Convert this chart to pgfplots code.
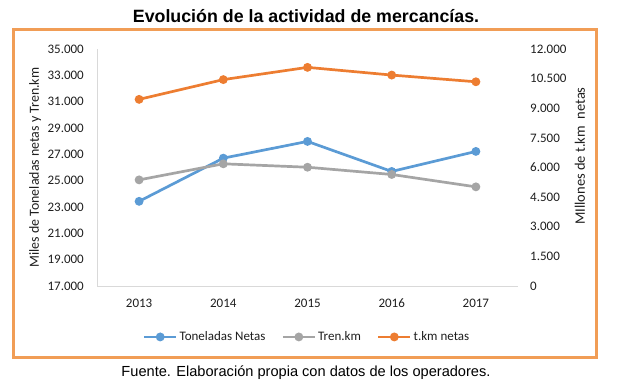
\documentclass[border=0pt]{standalone}
\usepackage{pgfplots}
\pgfplotsset{compat=1.18}
\usepackage{fontspec}
\setmainfont{Carlito}
\newfontfamily\arial{Liberation Sans}
\definecolor{cblue}{RGB}{91,155,213}
\definecolor{cgray}{RGB}{165,165,165}
\definecolor{corange}{RGB}{237,125,49}
\definecolor{cframe}{RGB}{241,157,86}
\definecolor{caxis}{RGB}{217,217,217}
\definecolor{ctext}{RGB}{30,30,30}
\begin{document}
\begin{tikzpicture}[x=1pt,y=1pt]
\useasboundingbox (0,0) rectangle (623,390);
\draw[cframe, line width=3pt] (13.5,360) rectangle (596.5,32);
\node[font=\arial\bfseries\fontsize{17.8}{20}\selectfont] at (306,374) {Evolución de la actividad de mercancías.};
\node[font=\arial\fontsize{14.6}{16}\selectfont] at (306,17) {Fuente. Elaboración propia con datos de los operadores.};
\pgfplotsset{
  common/.style={
    at={(97pt,104pt)}, anchor=south west,
    scale only axis, width=421pt, height=237pt,
    xmin=-0.5, xmax=4.5,
    major tick length=0pt,
    scaled y ticks=false,
    /pgf/number format/assume math mode=true,
    /pgf/number format/.cd, fixed, 1000 sep={.}, /pgfplots/.cd,
    tick label style={font=\fontsize{13}{15}\selectfont, text=ctext},
    every axis plot/.append style={line width=2.7pt, mark=*, mark size=3pt},
  }
}
\begin{axis}[common,
  axis x line*=bottom, axis y line*=left,
  axis line style={draw=caxis, line width=0.8pt, -},
  ymin=17000, ymax=35000, ytick={17000,19000,...,35000},
  xtick={0,1,2,3,4}, xticklabels={2013,2014,2015,2016,2017},
  xticklabel style={inner sep=0pt, anchor=north, yshift=-13pt},
  yticklabel style={inner sep=0pt, anchor=east, xshift=-13pt},
  ylabel={Miles de Toneladas netas y Tren.km},
  ylabel style={at={(axis description cs:-0.147,0.5)}, anchor=center, text=ctext, font=\fontsize{13.9}{16}\selectfont},
]
\addplot[cblue, mark options={fill=cblue}] coordinates {(0,23430) (1,26710) (2,27980) (3,25700) (4,27220)};
\addplot[cgray, mark options={fill=cgray}] coordinates {(0,25060) (1,26280) (2,26020) (3,25470) (4,24530)};
\end{axis}
\begin{axis}[common,
  axis x line=none, axis y line*=right,
  y axis line style={draw=none},
  ymin=0, ymax=12000, ytick={0,1500,...,12000},
  yticklabel style={inner sep=0pt, anchor=west, xshift=12pt},
  ylabel={MIllones de t.km\ \ netas},
  ylabel style={at={(axis description cs:1.147,0.548)}, anchor=center, rotate=0, text=ctext, font=\fontsize{14.5}{16}\selectfont},
  legend columns=3,
  legend style={at={(axis description cs:0.499,-0.215)}, anchor=center, draw=none, fill=none,
    font=\fontsize{13}{15}\selectfont, text=ctext, inner sep=0pt,
    /tikz/every even column/.append style={column sep=14pt}},
  legend image code/.code={\draw[#1, mark repeat=2, mark phase=2] plot coordinates {(0pt,0pt) (16pt,0pt) (32pt,0pt)};},
]
\addlegendimage{cblue, line width=2.7pt, mark=*, mark size=3pt, mark options={fill=cblue}}
\addlegendentry{Toneladas Netas}
\addlegendimage{cgray, line width=2.7pt, mark=*, mark size=3pt, mark options={fill=cgray}}
\addlegendentry{Tren.km}
\addplot[corange, mark options={fill=corange}] coordinates {(0,9450) (1,10450) (2,11070) (3,10680) (4,10340)};
\addlegendentry{t.km netas}
\end{axis}
\end{tikzpicture}
\end{document}
